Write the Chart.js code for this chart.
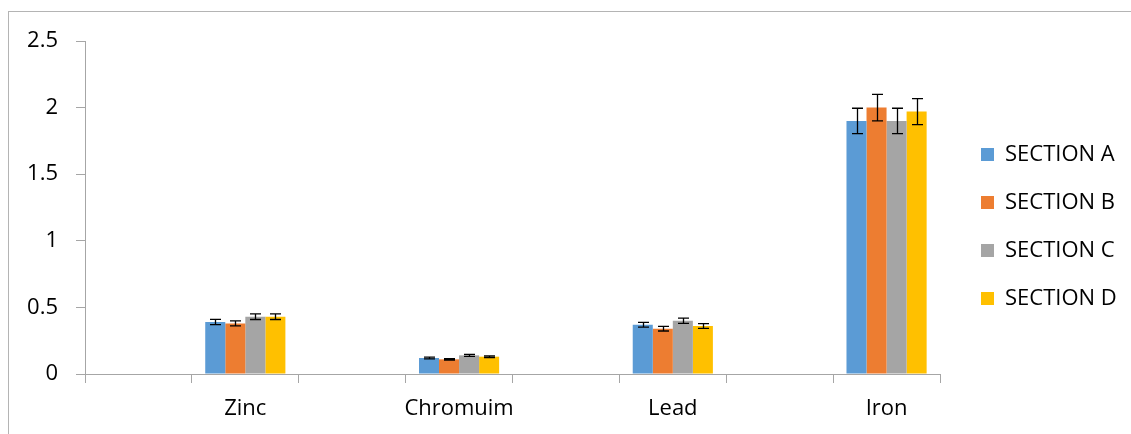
<!DOCTYPE html>
<html>
<head>
<meta charset="utf-8">
<script src="https://cdn.jsdelivr.net/npm/chart.js@4.4.1/dist/chart.umd.min.js"></script>
<style>
    html, body { margin: 0; padding: 0; background: #fff; overflow: hidden; }
    #frame { position: absolute; left: 8px; top: 11px; width: 1200px; height: 500px; border: 1px solid #b4b4b4; }
    #wrap { position: absolute; left: 0; top: 0; width: 1131px; height: 434px; }
</style>
</head>
<body>
<div id="frame"></div>
<div id="wrap"><canvas id="chart"></canvas></div>
<script>
// metals, with an empty slot before each one (as in the source sheet)
const metals = ["Zinc", "Chromuim", "Lead", "Iron"];
const sections = ["SECTION A", "SECTION B", "SECTION C", "SECTION D"];
const colors = ["#5B9BD5", "#ED7D31", "#A5A5A5", "#FFC000"];

const sectionA = [0.39, 0.12, 0.37, 1.90];
const sectionB = [0.38, 0.11, 0.34, 2.00];
const sectionC = [0.43, 0.14, 0.40, 1.90];
const sectionD = [0.43, 0.13, 0.36, 1.97];

const errA = [0.02, 0.006, 0.018, 0.095];
const errB = [0.019, 0.005, 0.017, 0.10];
const errC = [0.021, 0.007, 0.02, 0.095];
const errD = [0.021, 0.006, 0.018, 0.098];

const yTicks = [0, 0.5, 1, 1.5, 2, 2.5];

const withGaps = arr => arr.flatMap(v => [null, v]);
const labels = metals.flatMap(m => ["", m]);
const values = [sectionA, sectionB, sectionC, sectionD];
const errors = [errA, errB, errC, errD];

const font = { family: "'Open Sans', sans-serif", size: 22 };

const errorBars = {
    id: "errorBars",
    afterDatasetsDraw(chart) {
        const ctx = chart.ctx;
        const y = chart.scales.y;
        ctx.save();
        ctx.strokeStyle = "#000";
        ctx.lineWidth = 1.3;
        chart.data.datasets.forEach((ds, i) => {
            const meta = chart.getDatasetMeta(i);
            meta.data.forEach((bar, j) => {
                const v = ds.data[j], e = ds.errors[j];
                if (v == null || e == null) return;
                const top = y.getPixelForValue(v + e);
                const bot = y.getPixelForValue(v - e);
                const x = Math.round(bar.x) + 0.5;
                ctx.beginPath();
                ctx.moveTo(x, top); ctx.lineTo(x, bot);
                ctx.moveTo(x - 5.5, top); ctx.lineTo(x + 5.5, top);
                ctx.moveTo(x - 5.5, bot); ctx.lineTo(x + 5.5, bot);
                ctx.stroke();
            });
        });
        ctx.restore();
    }
};

// fixed legend width, then nudge it so it sits where the original has it
const legendPlace = {
    id: "legendPlace",
    afterInit(chart) {
        const lg = chart.legend;
        const fit = lg.fit;
        lg.fit = function () { fit.call(this); this.width = 191; };
    },
    afterLayout(chart) {
        const lg = chart.legend;
        lg.left += 15; lg.right += 15;
        lg.top -= 11; lg.bottom -= 11;
    }
};

new Chart(document.getElementById("chart"), {
    type: "bar",
    data: {
        labels: labels,
        datasets: sections.map((s, i) => ({
            label: s,
            data: withGaps(values[i]),
            errors: withGaps(errors[i]),
            backgroundColor: colors[i],
            borderWidth: 0,
            barPercentage: 1.0,
            categoryPercentage: 0.75
        }))
    },
    options: {
        responsive: true,
        maintainAspectRatio: false,
        animation: false,
        layout: { padding: { top: 41, right: 0, bottom: 0, left: 0 } },
        plugins: {
            tooltip: { enabled: false },
            legend: {
                position: "right",
                labels: { boxWidth: 13, boxHeight: 13, padding: 26, color: "#000", font: font }
            }
        },
        scales: {
            x: {
                grid: { display: true, drawOnChartArea: false, tickLength: 9, color: "#a6a6a6", offset: true },
                border: { color: "#a6a6a6" },
                ticks: { color: "#000", font: font, padding: 13, maxRotation: 0, autoSkip: false },
                afterFit: s => { s.height = 60; }
            },
            y: {
                min: 0,
                max: 2.5,
                afterBuildTicks: s => { s.ticks = yTicks.map(v => ({ value: v })); },
                grid: { display: true, drawOnChartArea: false, tickLength: 9, color: "#a6a6a6" },
                border: { color: "#a6a6a6" },
                ticks: { color: "#000", font: font, padding: 18, callback: v => String(v) },
                afterFit: s => { s.width = 85; }
            }
        }
    },
    plugins: [errorBars, legendPlace]
});
</script>
</body>
</html>
